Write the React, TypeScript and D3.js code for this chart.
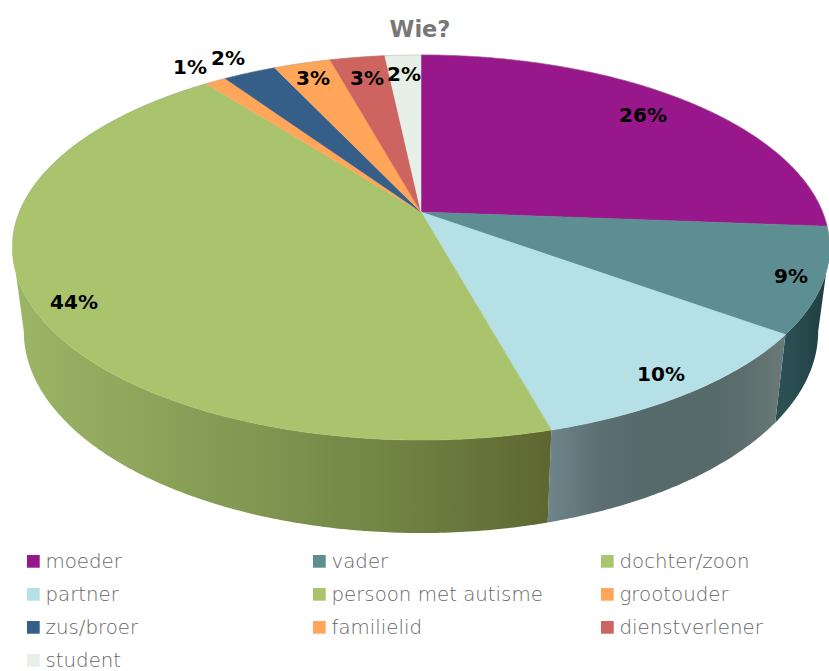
import React from "react";
import * as d3 from "d3";

const categories = ["moeder", "vader", "dochter/zoon", "partner", "persoon met autisme", "grootouder", "zus/broer", "familielid", "dienstverlener", "student"];
const values = [26.2, 8.8, 0, 10.7, 43.8, 1.0, 2.5, 2.7, 2.6, 1.7];
const percentLabels = ["26%", "9%", "", "10%", "44%", "1%", "2%", "3%", "3%", "2%"];

const topColors = ["#98188c", "#5c8e92", "#a9c66f", "#b5e0e5", "#a9c46d", "#ffa65a", "#355f88", "#ffa65a", "#cd645f", "#e6f0e6"];
const wallStops: string[][] = [
  ["#5c0f55", "#5c0f55"],
  ["#2b5054", "#1f3d40"],
  ["#6c7d45", "#6c7d45"],
  ["#6e848a", "#5c7074", "#566a6c", "#566a6a", "#5a6c6c", "#6a7a78"],
  ["#9db566", "#8da45a", "#7d934f", "#6d8041", "#5e6630"],
  ["#a0683a", "#a0683a"],
  ["#223c56", "#223c56"],
  ["#a0683a", "#a0683a"],
  ["#80403d", "#80403d"],
  ["#909690", "#909690"],
];
const labelX = [643, 791, 0, 661, 74, 190, 228, 313, 367, 404];
const labelY = [115, 276, 0, 374, 302, 67, 58, 78, 78, 74];

const W = 829, H = 671;
const CX = 421, CY = 212, A = 401.6, B = 186, K = 0.1844;
const BOT_D = 82.3, BOT_B = 194.7, BOT_X = 0.972;
const FRONT_FROM = 1.756, FRONT_TO = 4.527;

function topPt(t: number): [number, number] {
  const u = Math.sin(t), v = -Math.cos(t), q = 1 - K * v;
  return [CX + (A * u) / q, CY + (B * v) / q];
}
function botPt(t: number): [number, number] {
  const u = Math.sin(t), v = -Math.cos(t), q = 1 - K * v;
  return [CX + (A * BOT_X * u) / q, CY + BOT_D + (BOT_B * v) / q];
}

const pieGen = d3.pie<number>().sort(null).startAngle(0).endAngle(2 * Math.PI);
const line = d3.line();

function arcAngles(a: number, b: number) {
  const n = Math.max(2, Math.ceil((b - a) / 0.01));
  return d3.range(n + 1).map((i) => a + ((b - a) * i) / n);
}

export default function App() {
  const arcs = pieGen(values);
  return (
    <svg width={W} height={H} style={{ position: "absolute", left: 0, top: 0, background: "#fff" }}>
      <defs>
        {arcs.map((d, i) => {
          const a = Math.max(d.startAngle, FRONT_FROM), b = Math.min(d.endAngle, FRONT_TO);
          if (b <= a) return null;
          const xs = arcAngles(a, b).map((t) => topPt(t)[0]);
          const stops = wallStops[i];
          const [x0, x1] = d3.extent(xs) as [number, number];
          return (
            <linearGradient key={i} id={`wall${i}`} gradientUnits="userSpaceOnUse" x1={x0} x2={x1 + 0.01} y1={0} y2={0}>
              {stops.map((c, j) => (
                <stop key={j} offset={j / (stops.length - 1)} stopColor={c} />
              ))}
            </linearGradient>
          );
        })}
      </defs>
      <text x={420} y={37} textAnchor="middle" fontFamily="'DejaVu Sans', sans-serif" fontWeight="bold" fontSize={22.5} fill="#787878">Wie?</text>

      {arcs.map((d, i) => {
        const a = Math.max(d.startAngle, FRONT_FROM), b = Math.min(d.endAngle, FRONT_TO);
        if (b <= a) return null;
        const ts = arcAngles(a, b);
        const pts = [...ts.map(topPt), ...ts.slice().reverse().map(botPt)];
        return <path key={i} d={(line(pts) as string) + "Z"} fill={`url(#wall${i})`} />;
      })}

      {arcs.map((d, i) => {
        if (d.endAngle - d.startAngle <= 0) return null;
        const ts = arcAngles(d.startAngle, d.endAngle);
        const pts: [number, number][] = [[CX, CY], ...ts.map(topPt)];
        return <path key={i} d={(line(pts) as string) + "Z"} fill={topColors[i]} stroke={topColors[i]} strokeWidth={0.5} />;
      })}
      <path
        d={line(arcAngles(Math.PI * 1.45, Math.PI * 2.55).map(topPt)) as string}
        fill="none" stroke="#8a8a8a" strokeOpacity={0.3} strokeWidth={1}
      />

      {percentLabels.map((t, i) =>
        t ? (
          <text key={i} x={labelX[i]} y={labelY[i]} dy="0.36em" textAnchor="middle" fontFamily="'DejaVu Sans', sans-serif" fontWeight="bold" fontSize={20} fill="#000">{t}</text>
        ) : null
      )}

      {categories.map((c, i) => {
        const col = i % 3, row = Math.floor(i / 3);
        const sx = [27, 313, 601][col];
        const yc = 561.5 + row * 33;
        return (
          <g key={c}>
            <rect x={sx} y={yc - 6.5} width={12.7} height={12.7} fill={topColors[i]} />
            <text x={sx + 18.5} y={yc} dy="0.34em" fontFamily="'DejaVu Sans', sans-serif" fontWeight={200} fontSize={19.8} fill="#666">{c}</text>
          </g>
        );
      })}
    </svg>
  );
}
